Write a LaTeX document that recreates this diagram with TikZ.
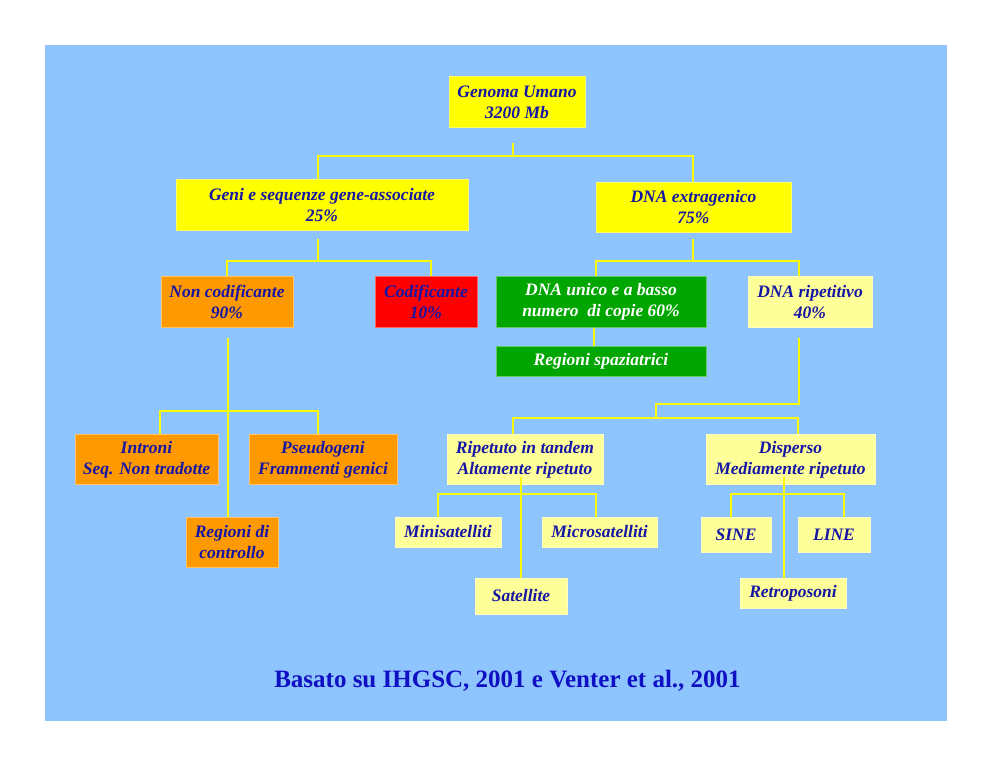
\documentclass[tikz,border=0pt]{standalone}
\usepackage{fontspec}
\setmainfont{Liberation Serif}
\definecolor{bgblue}{RGB}{142,197,255}
\definecolor{yel}{RGB}{255,255,0}
\definecolor{lyel}{RGB}{255,255,153}
\definecolor{orng}{RGB}{255,153,0}
\definecolor{redb}{RGB}{255,0,0}
\definecolor{grn}{RGB}{0,166,0}
\definecolor{txtblue}{RGB}{22,22,165}
\definecolor{footblue}{RGB}{15,15,195}
\definecolor{connyel}{RGB}{250,250,10}
\tikzset{
  box/.style={inner sep=0pt, align=center, text=txtblue,
    font=\bfseries\itshape\fontsize{17.5}{21}\selectfont},
  ybox/.style={box, fill=yel, draw=yel!60!white, line width=0.6pt},
  lybox/.style={box, fill=lyel, draw=lyel!60!white, line width=0.6pt},
  obox/.style={box, fill=orng, draw=orng!60!white, line width=0.6pt},
  rbox/.style={box, fill=redb, draw=redb!60!white, line width=0.6pt},
  gbox/.style={box, fill=grn, draw=grn!60!white, line width=0.6pt, text=white},
  conn/.style={draw=connyel, line width=1.7pt},
  footer/.style={inner sep=0pt, text=footblue, font=\bfseries\fontsize{25}{30}\selectfont}
}
\begin{document}
\begin{tikzpicture}[x=1pt,y=-1pt]
\useasboundingbox (0,0) rectangle (992,766);
\fill[bgblue] (45,45) rectangle (947,721);

% level 0
\node[ybox, minimum width=136pt, minimum height=51pt] (genoma) at (517,102) {Genoma Umano\\3200 Mb};
% level 1
\node[ybox, minimum width=292pt, minimum height=51pt] (geni) at (322,205) {Geni e sequenze gene-associate\\25\%};
\node[ybox, minimum width=195pt, minimum height=50pt] (extra) at (693.5,207.5) {DNA extragenico\\75\%};
% level 2
\node[obox, minimum width=132pt, minimum height=51pt] (noncod) at (227,302) {Non codificante\\90\%};
\node[rbox, minimum width=102pt, minimum height=51pt] (cod) at (426,302) {Codificante\\10\%};
\node[gbox, minimum width=210pt, minimum height=51pt] (unico) at (601,302) {DNA unico e a basso\\numero\ \ di copie 60\%};
\node[lybox, minimum width=124pt, minimum height=51pt] (ripet) at (810,302) {DNA ripetitivo\\40\%};
\node[gbox, minimum width=210pt, minimum height=30pt] (spaz) at (601,361.5) {Regioni spaziatrici};
% level 3
\node[obox, minimum width=143pt, minimum height=50pt] (introni) at (146.5,459.5) {Introni\\Seq. Non tradotte};
\node[obox, minimum width=148pt, minimum height=50pt] (pseudo) at (323,459.5) {Pseudogeni\\Frammenti genici};
\node[obox, minimum width=92pt, minimum height=50pt] (regctrl) at (232,542.5) {Regioni di\\controllo};
\node[lybox, minimum width=156pt, minimum height=50pt] (tandem) at (525,459.5) {Ripetuto in tandem\\Altamente ripetuto};
\node[lybox, minimum width=169pt, minimum height=50pt] (disperso) at (790.5,459.5) {Disperso\\Mediamente ripetuto};
% level 4
\node[lybox, minimum width=106pt, minimum height=30pt] (mini) at (448,532) {Minisatelliti};
\node[lybox, minimum width=115pt, minimum height=30pt] (micro) at (599.5,532) {Microsatelliti};
\node[lybox, minimum width=92pt, minimum height=36pt] (satellite) at (521,596) {Satellite};
\node[lybox, minimum width=70pt, minimum height=35pt] (sine) at (736,534.5) {SINE};
\node[lybox, minimum width=72pt, minimum height=35pt] (linebox) at (834,534.5) {LINE};
\node[lybox, minimum width=106pt, minimum height=30pt] (retro) at (793,593) {Retroposoni};

% footer
\node[footer] (src) at (507.5,680.5) {Basato su IHGSC, 2001 e Venter et al., 2001};

% connectors
\draw[conn] ([xshift=-4pt,yshift=-15pt]genoma.south) -- ++(0,14);
\draw[conn] ([xshift=-4pt]geni.north) -- ++(0,-23) -| ([xshift=-0.5pt]extra.north);

\draw[conn] ([xshift=-4pt,yshift=-8pt]geni.south) -- ++(0,23);
\draw[conn] (noncod.north) -- ++(0,-15) -| ([xshift=5pt]cod.north);

\draw[conn] ([xshift=-0.5pt,yshift=-6pt]extra.south) -- ++(0,23);
\draw[conn] ([xshift=-5pt]unico.north) -- ++(0,-15) -| ([xshift=-11pt]ripet.north);

\draw[conn] ([xshift=-7pt]unico.south) -- ([xshift=-7pt]spaz.north);

\draw[conn] ([xshift=1pt,yshift=-10pt]noncod.south) -- ([xshift=-4pt]regctrl.north);
\draw[conn] ([xshift=13.5pt]introni.north) -- ++(0,-23) -| ([xshift=-5pt]pseudo.north);

\coordinate (rj) at (656,418);
\draw[conn] ([xshift=-11pt,yshift=-10pt]ripet.south) -- ++(0,66) -| (rj);
\draw[conn] ([xshift=-12pt]tandem.north) -- ++(0,-16) -| ([xshift=7.5pt]disperso.north);

\draw[conn] ([xshift=-10pt]mini.north) -- ++(0,-23) -| ([xshift=-3.5pt]micro.north);
\draw[conn] ([xshift=-4pt,yshift=8pt]tandem.south) -- (satellite.north);

\draw[conn] ([xshift=-5pt]sine.north) -- ++(0,-23) -| ([xshift=10pt]linebox.north);
\draw[conn] ([xshift=-6.5pt,yshift=8pt]disperso.south) -- ([xshift=-9pt]retro.north);
\end{tikzpicture}
\end{document}
